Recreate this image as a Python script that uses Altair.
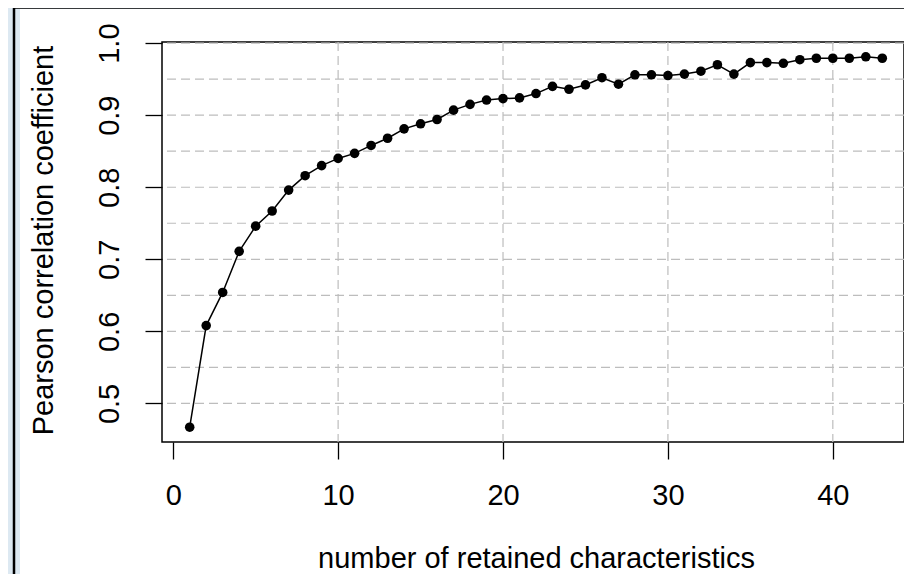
import altair as alt
import pandas as pd

# ---- data ----
n_retained = list(range(1, 44))
pearson_r = [0.467, 0.608, 0.654, 0.711, 0.746, 0.767, 0.796, 0.816, 0.830, 0.840,
             0.847, 0.858, 0.868, 0.881, 0.888, 0.894, 0.907, 0.915, 0.921, 0.923,
             0.924, 0.930, 0.940, 0.936, 0.942, 0.952, 0.943, 0.956, 0.956, 0.955,
             0.957, 0.961, 0.970, 0.957, 0.973, 0.973, 0.972, 0.977, 0.979, 0.979,
             0.979, 0.981, 0.979]
x_ticks = [0, 10, 20, 30, 40]
y_ticks = [0.5, 0.6, 0.7, 0.8, 0.9, 1.0]
h_grid = [0.5, 0.55, 0.6, 0.65, 0.7, 0.75, 0.8, 0.85, 0.9, 0.95, 1.0]
v_grid = [10, 20, 30, 40]

df = pd.DataFrame({"n": n_retained, "r": pearson_r})
df_h = pd.DataFrame({"r": h_grid})
df_v = pd.DataFrame({"n": v_grid})
one = pd.DataFrame({"k": [0]})

FULL_W = 748   # plot width in the original figure
W, H = 742, 400  # what fits in the page without overflow

# R-style 4% range extension (right side trimmed to the available width)
xr = max(n_retained) - min(n_retained)
yr = max(pearson_r) - min(pearson_r)
x_lo = min(n_retained) - 0.04 * xr
x_hi = max(n_retained) + 0.04 * xr
x_dom = [x_lo, x_lo + (x_hi - x_lo) * W / FULL_W]
y_dom = [min(pearson_r) - 0.04 * yr, max(pearson_r) + 0.04 * yr]

FONT = "Liberation Sans"
FS = 29
BLUE = "#dde9f2"

xscale = alt.Scale(domain=x_dom, nice=False, zero=False)
yscale = alt.Scale(domain=y_dom, nice=False, zero=False)

xaxis = alt.Axis(values=x_ticks, format="d", title="number of retained characteristics",
                 domain=False, grid=False, ticks=True, tickSize=17, tickColor="black",
                 tickWidth=1.3, labelFont=FONT, labelFontSize=FS, labelColor="black",
                 labelPadding=45, labelBaseline="alphabetic", labelFlush=False,
                 labelOverlap=False, titleFont=FONT, titleFontSize=FS,
                 titleFontWeight="normal", titleColor="black", titleX=FULL_W / 2,
                 titleY=125, titleAlign="center", titleBaseline="alphabetic", zindex=1)
yaxis = alt.Axis(values=y_ticks, format=".1f", title="Pearson correlation coefficient",
                 domain=False, grid=False, ticks=True, tickSize=17, tickColor="black",
                 tickWidth=1.3, labelFont=FONT, labelFontSize=FS, labelColor="black",
                 labelAngle=270, labelAlign="center", labelBaseline="alphabetic",
                 labelPadding=27, labelFlush=False, labelOverlap=False,
                 titleFont=FONT, titleFontSize=FS, titleFontWeight="normal",
                 titleColor="black", titleAngle=270, titleX=-110, titleY=198,
                 titleAlign="center", titleBaseline="alphabetic", zindex=1)

# decorative figure frame
outer = alt.Chart(one).mark_rect(fill=BLUE, stroke="black", strokeWidth=2.5).encode(
    x=alt.value(-148), x2=alt.value(1000), y=alt.value(-34.5), y2=alt.value(800))
inner = alt.Chart(one).mark_rect(fill="white").encode(
    x=alt.value(-142), x2=alt.value(1000), y=alt.value(-33), y2=alt.value(800))
box = alt.Chart(one).mark_rect(fillOpacity=0, stroke="black", strokeWidth=1.5).encode(
    x=alt.value(0), x2=alt.value(W), y=alt.value(0), y2=alt.value(H))

hgrid = alt.Chart(df_h).mark_rule(color="#bdbdbd", strokeWidth=1.2, strokeDash=[9, 5]).encode(
    y=alt.Y("r:Q", scale=yscale, axis=yaxis))
vgrid = alt.Chart(df_v).mark_rule(color="#bdbdbd", strokeWidth=1.2, strokeDash=[9, 5]).encode(
    x=alt.X("n:Q", scale=xscale, axis=xaxis))

line = alt.Chart(df).mark_line(color="black", strokeWidth=1.5).encode(
    x=alt.X("n:Q", scale=xscale, axis=xaxis),
    y=alt.Y("r:Q", scale=yscale, axis=yaxis))
points = alt.Chart(df).mark_circle(color="black", size=92, opacity=1).encode(
    x=alt.X("n:Q", scale=xscale, axis=xaxis),
    y=alt.Y("r:Q", scale=yscale, axis=yaxis))

chart = alt.layer(outer, inner, box, hgrid, vgrid, line, points).properties(
    width=W, height=H, background=BLUE,
    padding={"left": 154, "top": 34, "right": 0, "bottom": 132},
    autosize=alt.AutoSizeParams(type="none"),
).configure_view(stroke="transparent")

chart.save("out.html", embed_options={"renderer": "svg", "actions": False})
